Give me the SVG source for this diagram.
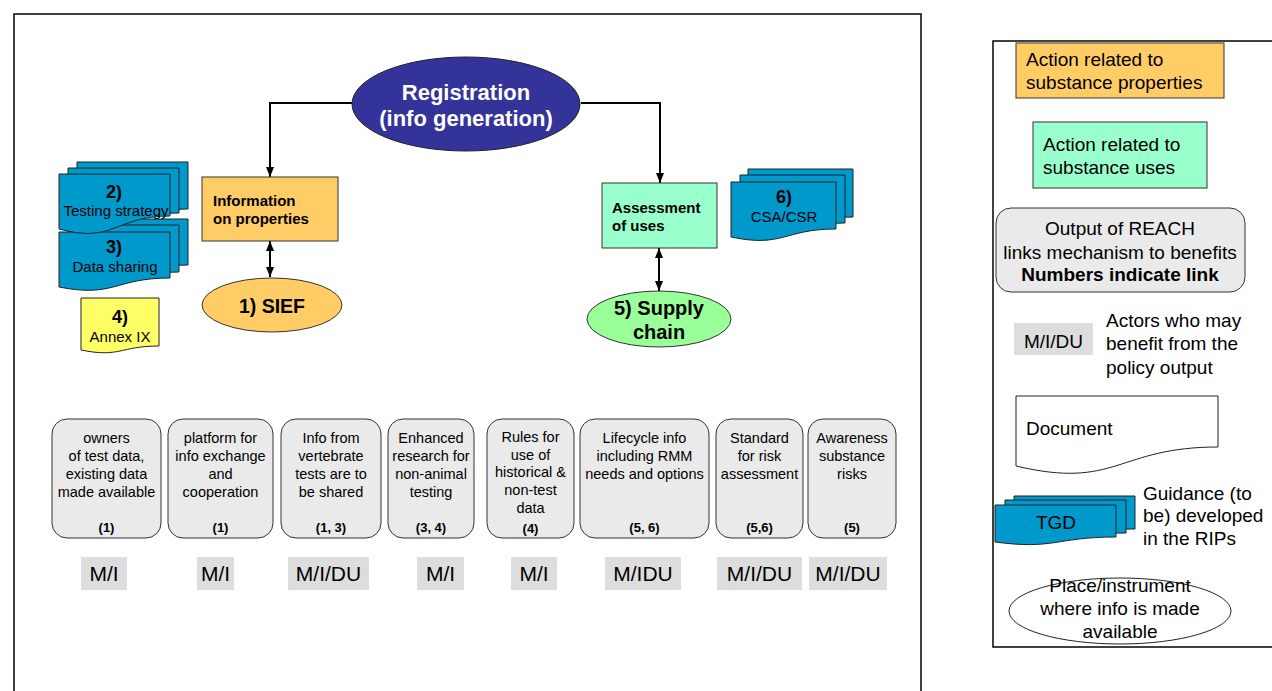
<svg xmlns="http://www.w3.org/2000/svg" width="1272" height="691" viewBox="0 0 1272 691">
<style>
text{font-family:"Liberation Sans",Arial,sans-serif;fill:#000}
.frame{fill:#fff;stroke:#000;stroke-width:1.5}
.doc{stroke:#222;stroke-width:1}
.blue{fill:#0099CC}
.yel{fill:#FFFF66}
.out{fill:#EAEAEA;stroke:#333;stroke-width:1}
.act{fill:#DDDDDD}
.bt{font-size:14.5px;text-anchor:middle}
.bn{font-size:13px;font-weight:bold;text-anchor:middle}
.at{font-size:21px;text-anchor:middle}
.lg{font-size:19px}
.conn{fill:none;stroke:#000;stroke-width:2}
</style>
<defs>
<marker id="ah" markerUnits="userSpaceOnUse" markerWidth="10" markerHeight="10" viewBox="0 0 10 10" refX="10" refY="5" orient="auto-start-reverse">
<path d="M0 1 L10 5 L0 9 Z" fill="#000"/>
</marker>
</defs>
<rect class="frame" x="14" y="14" width="907" height="700"/>
<rect class="frame" x="993" y="41" width="300" height="606"/>

<g id="connectors">
<path class="conn" d="M352 103 H270 V177" marker-end="url(#ah)"/>
<path class="conn" d="M581 103 H660 V183" marker-end="url(#ah)"/>
<path class="conn" d="M270 241 V277" marker-start="url(#ah)" marker-end="url(#ah)"/>
<path class="conn" d="M659 248 V291" marker-start="url(#ah)" marker-end="url(#ah)"/>
</g>

<g id="registration">
<ellipse cx="466" cy="104" rx="114" ry="47" fill="#333399" stroke="#222" stroke-width="1"/>
<text x="466" y="100" font-size="22" font-weight="bold" text-anchor="middle" style="fill:#fff">Registration</text>
<text x="466" y="126" font-size="22" font-weight="bold" text-anchor="middle" style="fill:#fff">(info generation)</text>
</g>

<g id="info-properties">
<rect x="202" y="177" width="136" height="64" fill="#FFCC66" stroke="#333" stroke-width="1"/>
<text x="213" y="206" font-size="15" font-weight="bold">Information</text>
<text x="213" y="224" font-size="15" font-weight="bold">on properties</text>
</g>

<g id="sief">
<ellipse cx="272" cy="305" rx="70" ry="27" fill="#FFCC66" stroke="#333" stroke-width="1"/>
<text x="272" y="313" font-size="19.5" font-weight="bold" text-anchor="middle">1) SIEF</text>
</g>

<g id="assessment-uses">
<rect x="602" y="183" width="115" height="65" fill="#99FFCC" stroke="#333" stroke-width="1"/>
<text x="612" y="213" font-size="15" font-weight="bold">Assessment</text>
<text x="612" y="231" font-size="15" font-weight="bold">of uses</text>
</g>

<g id="supply-chain">
<ellipse cx="659" cy="319" rx="72" ry="28" fill="#99FF99" stroke="#333" stroke-width="1"/>
<text x="659" y="315" font-size="20" font-weight="bold" text-anchor="middle">5) Supply</text>
<text x="659" y="339" font-size="20" font-weight="bold" text-anchor="middle">chain</text>
</g>

<g id="doc3-data-sharing">
<path class="doc blue" d="M77 219 H188 V265 C132 265 132 290 77 280 Z"/>
<path class="doc blue" d="M68 225 H179 V272 C123 272 123 296 68 284 Z"/>
<path class="doc blue" d="M59 232 H170 V278 C114.5 278 114.5 298 59 287 Z"/>
<text x="114" y="253" font-size="18" font-weight="bold" text-anchor="middle">3)</text>
<text x="115" y="272" font-size="15" text-anchor="middle">Data sharing</text>
</g>

<g id="doc2-testing-strategy">
<path class="doc blue" d="M77 162 H188 V209 C132 209 132 232 77 222 Z"/>
<path class="doc blue" d="M68 168 H179 V213 C123 213 123 238 68 226 Z"/>
<path class="doc blue" d="M59 174 H170 V216 C114.5 216 114.5 244 59 229 Z"/>
<text x="114" y="198" font-size="18" font-weight="bold" text-anchor="middle">2)</text>
<text x="116" y="216" font-size="15" text-anchor="middle">Testing strategy</text>
</g>

<g id="doc4-annex">
<path class="doc yel" d="M81 298 H159 V346 C120 346 120 358 81 350 Z"/>
<text x="120" y="323" font-size="18" font-weight="bold" text-anchor="middle">4)</text>
<text x="120" y="342" font-size="15" text-anchor="middle">Annex IX</text>
</g>

<g id="doc6-csa">
<path class="doc blue" d="M748 169 H853 V217 C800 217 800 236 748 229 Z"/>
<path class="doc blue" d="M740 175 H845 V223 C792 223 792 242 740 234 Z"/>
<path class="doc blue" d="M731 182 H836 V229 C783.5 229 783.5 248 731 237 Z"/>
<text x="784" y="203" font-size="18" font-weight="bold" text-anchor="middle">6)</text>
<text x="784" y="222" font-size="15" text-anchor="middle">CSA/CSR</text>
</g>

<g id="out1">
<rect class="out" x="52" y="419" width="109" height="119" rx="15"/>
<text class="bt" x="106.5" y="443">owners</text>
<text class="bt" x="106.5" y="461">of test data,</text>
<text class="bt" x="106.5" y="479">existing data</text>
<text class="bt" x="106.5" y="497">made available</text>
<text class="bn" x="106.5" y="532">(1)</text>
<rect class="act" x="81" y="557" width="46" height="33"/>
<text class="at" x="104" y="581">M/I</text>
</g>
<g id="out2">
<rect class="out" x="168" y="419" width="105" height="119" rx="15"/>
<text class="bt" x="220.5" y="443">platform for</text>
<text class="bt" x="220.5" y="461">info exchange</text>
<text class="bt" x="220.5" y="479">and</text>
<text class="bt" x="220.5" y="497">cooperation</text>
<text class="bn" x="220.5" y="532">(1)</text>
<rect class="act" x="197" y="557" width="37" height="33"/>
<text class="at" x="215.5" y="581">M/I</text>
</g>
<g id="out3">
<rect class="out" x="281" y="419" width="100" height="119" rx="15"/>
<text class="bt" x="331" y="443">Info from</text>
<text class="bt" x="331" y="461">vertebrate</text>
<text class="bt" x="331" y="479">tests are to</text>
<text class="bt" x="331" y="497">be shared</text>
<text class="bn" x="331" y="532">(1, 3)</text>
<rect class="act" x="288" y="557" width="81" height="33"/>
<text class="at" x="328.5" y="581">M/I/DU</text>
</g>
<g id="out4">
<rect class="out" x="388" y="419" width="86" height="119" rx="15"/>
<text class="bt" x="431" y="443">Enhanced</text>
<text class="bt" x="431" y="461">research for</text>
<text class="bt" x="431" y="479">non-animal</text>
<text class="bt" x="431" y="497">testing</text>
<text class="bn" x="431" y="532">(3, 4)</text>
<rect class="act" x="417" y="557" width="47" height="33"/>
<text class="at" x="440.5" y="581">M/I</text>
</g>
<g id="out5">
<rect class="out" x="487" y="419" width="87" height="119" rx="15"/>
<text class="bt" x="530.5" y="442">Rules for</text>
<text class="bt" x="530.5" y="460">use of</text>
<text class="bt" x="530.5" y="477">historical &amp;</text>
<text class="bt" x="530.5" y="495">non-test</text>
<text class="bt" x="530.5" y="513">data</text>
<text class="bn" x="530.5" y="533">(4)</text>
<rect class="act" x="511" y="557" width="46" height="33"/>
<text class="at" x="534" y="581">M/I</text>
</g>
<g id="out6">
<rect class="out" x="580" y="419" width="129" height="119" rx="15"/>
<text class="bt" x="644.5" y="443">Lifecycle info</text>
<text class="bt" x="644.5" y="461">including RMM</text>
<text class="bt" x="644.5" y="479">needs and options</text>
<text class="bn" x="644.5" y="532">(5, 6)</text>
<rect class="act" x="605" y="557" width="76" height="33"/>
<text class="at" x="643" y="581">M/IDU</text>
</g>
<g id="out7">
<rect class="out" x="716" y="419" width="87" height="119" rx="15"/>
<text class="bt" x="759.5" y="443">Standard</text>
<text class="bt" x="759.5" y="461">for risk</text>
<text class="bt" x="759.5" y="479">assessment</text>
<text class="bn" x="759.5" y="532">(5,6)</text>
<rect class="act" x="717" y="557" width="85" height="33"/>
<text class="at" x="759.5" y="581">M/I/DU</text>
</g>
<g id="out8">
<rect class="out" x="808" y="419" width="88" height="119" rx="15"/>
<text class="bt" x="852" y="443">Awareness</text>
<text class="bt" x="852" y="461">substance</text>
<text class="bt" x="852" y="479">risks</text>
<text class="bn" x="852" y="532">(5)</text>
<rect class="act" x="809" y="557" width="78" height="33"/>
<text class="at" x="848" y="581">M/I/DU</text>
</g>

<g id="legend-properties">
<rect x="1016" y="43" width="208" height="55" fill="#FFCC66" stroke="#333" stroke-width="1"/>
<text class="lg" x="1026" y="66">Action related to</text>
<text class="lg" x="1026" y="89">substance properties</text>
</g>
<g id="legend-uses">
<rect x="1033" y="122" width="174" height="66" fill="#99FFCC" stroke="#333" stroke-width="1"/>
<text class="lg" x="1043" y="151">Action related to</text>
<text class="lg" x="1043" y="174">substance uses</text>
</g>
<g id="legend-output">
<rect class="out" x="996" y="208" width="249" height="84" rx="15"/>
<text class="lg" x="1120" y="235" text-anchor="middle">Output of REACH</text>
<text class="lg" x="1120" y="259" text-anchor="middle">links mechanism to benefits</text>
<text class="lg" x="1120" y="281" text-anchor="middle" font-weight="bold">Numbers indicate link</text>
</g>
<g id="legend-actors">
<rect class="act" x="1014" y="323" width="79" height="32"/>
<text class="lg" x="1053.5" y="348" text-anchor="middle">M/I/DU</text>
<text class="lg" x="1106" y="327">Actors who may</text>
<text class="lg" x="1106" y="350">benefit from the</text>
<text class="lg" x="1106" y="374">policy output</text>
</g>
<g id="legend-document">
<path class="doc" fill="#fff" d="M1016 396 H1218 V447 C1117 447 1117 490 1016 466 Z"/>
<text class="lg" x="1026" y="435">Document</text>
</g>
<g id="legend-tgd">
<path class="doc blue" d="M1014 496 H1135 V529 C1074 529 1074 540 1014 536 Z"/>
<path class="doc blue" d="M1005 500 H1126 V533 C1065 533 1065 545 1005 540 Z"/>
<path class="doc blue" d="M995 505 H1116 V537 C1055 537 1055 550 995 542 Z"/>
<text class="lg" x="1056" y="529" text-anchor="middle">TGD</text>
<text class="lg" x="1143" y="500">Guidance (to</text>
<text class="lg" x="1143" y="522">be) developed</text>
<text class="lg" x="1143" y="545">in the RIPs</text>
</g>
<g id="legend-place">
<ellipse cx="1120" cy="611" rx="111" ry="33" fill="#fff" stroke="#222" stroke-width="1"/>
<text class="lg" x="1120" y="592" text-anchor="middle">Place/instrument</text>
<text class="lg" x="1120" y="615" text-anchor="middle">where info is made</text>
<text class="lg" x="1120" y="638" text-anchor="middle">available</text>
</g>
</svg>
